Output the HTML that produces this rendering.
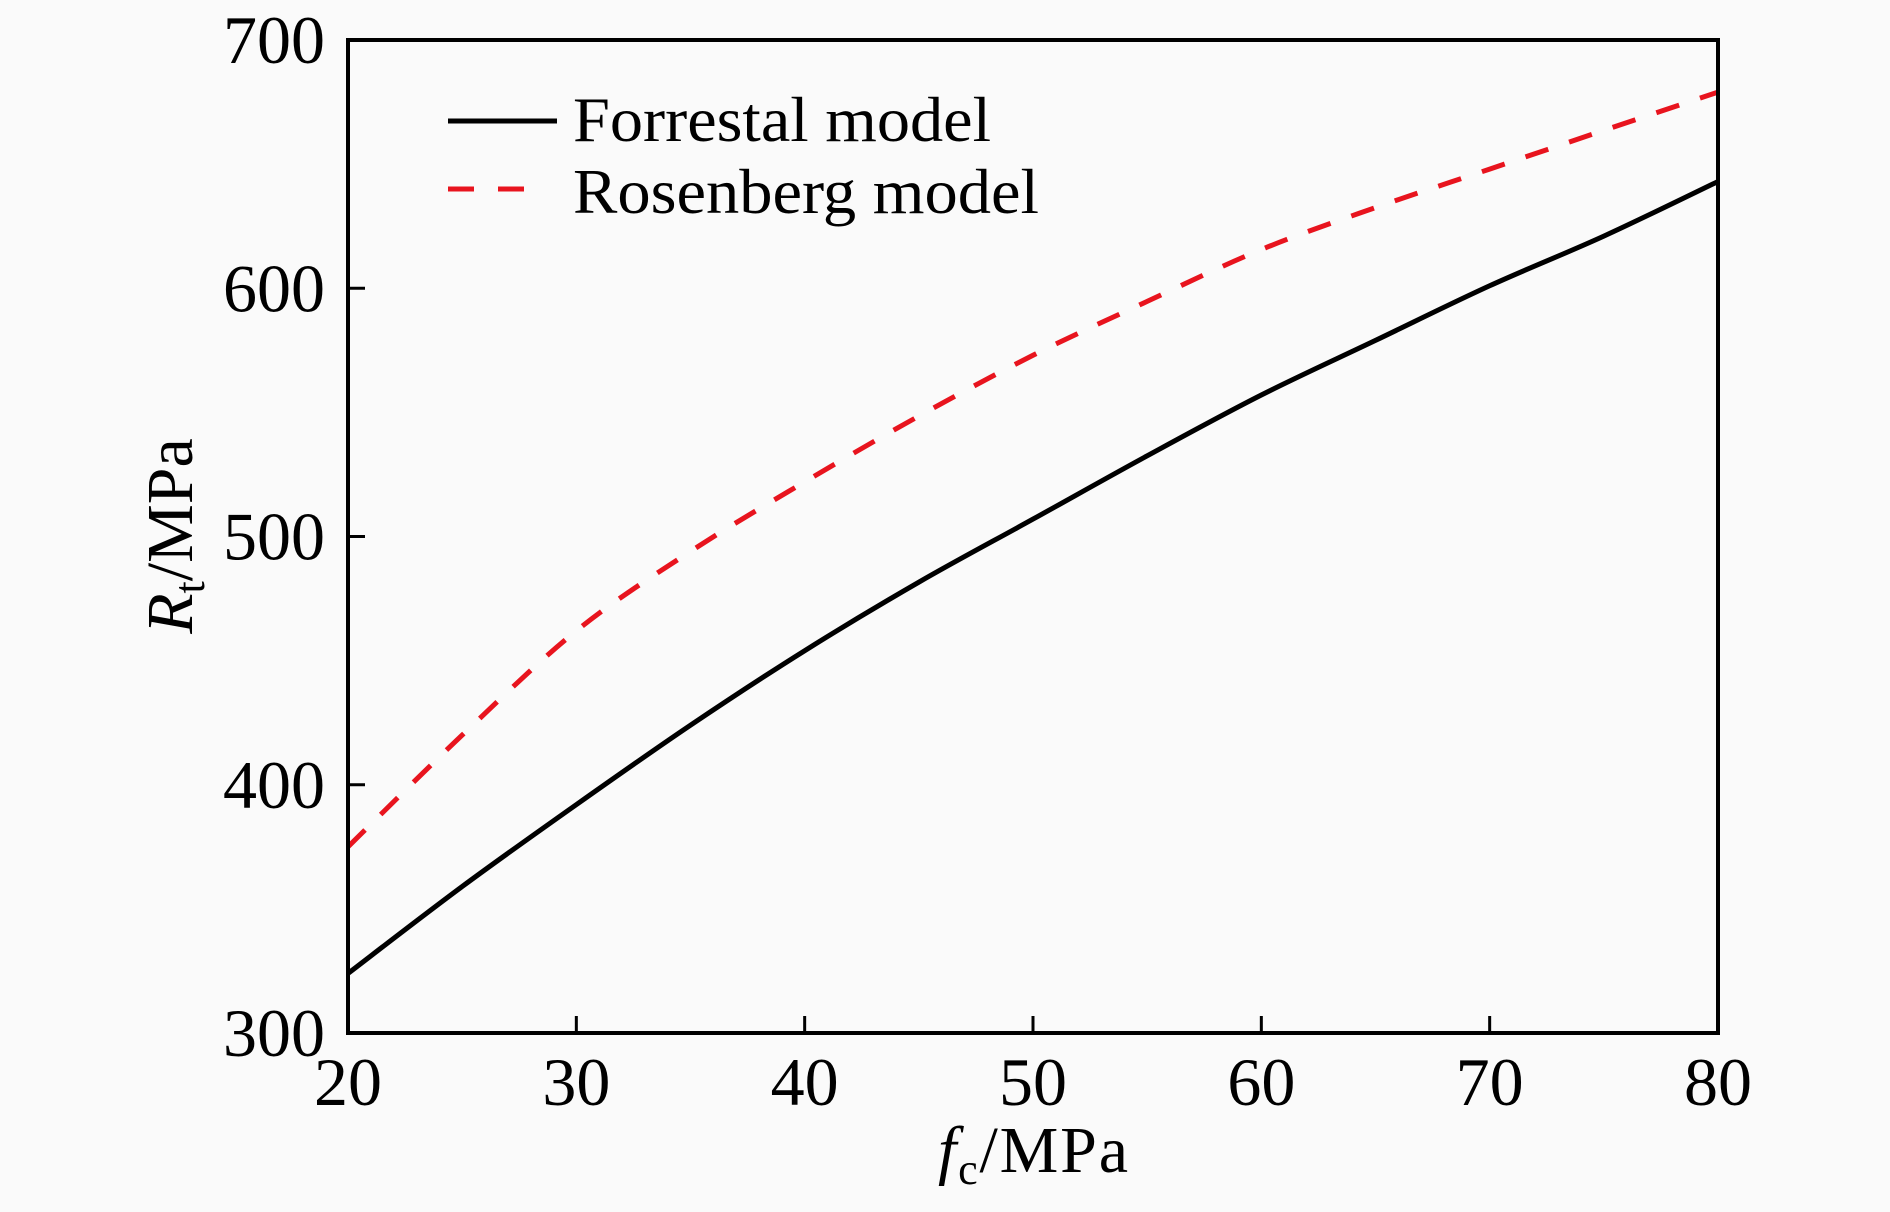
<!DOCTYPE html>
<html><head><meta charset="utf-8"><style>
html,body{margin:0;padding:0;background:#fafafa;}
svg{display:block;font-family:"Liberation Serif",serif;}
</style></head><body>
<svg id="chart" width="1890" height="1212" viewBox="0 0 1890 1212">
<rect width="1890" height="1212" fill="#fafafa"/>
<g id="marks"></g>
<rect x="348" y="40" width="1370" height="993" fill="none" stroke="#000" stroke-width="4"/>
<g id="ticks"></g>
<text x="1033" y="1172" font-size="66" text-anchor="middle" textLength="190"><tspan font-style="italic">f</tspan><tspan font-size="44" dy="12">c</tspan><tspan dy="-12">/MPa</tspan></text>
<text transform="translate(192,536) rotate(-90)" font-size="66" text-anchor="middle"><tspan font-style="italic">R</tspan><tspan font-size="44" dy="12">t</tspan><tspan dy="-12">/MPa</tspan></text>
<g>
<line x1="448" y1="121" x2="557" y2="121" stroke="#000" stroke-width="5"/>
<text x="573" y="141" font-size="64" textLength="418" lengthAdjust="spacingAndGlyphs">Forrestal model</text>
<line x1="448" y1="189" x2="540" y2="189" stroke="#e8141e" stroke-width="5" stroke-dasharray="26,24"/>
<text x="573" y="213" font-size="64" textLength="466" lengthAdjust="spacingAndGlyphs">Rosenberg model</text>
</g>
</svg>
<script>
const xs = [20,25,30,35,40,45,50,55,60,65,70,75,80];
const forrestal = [324,359,392,424,454,481.6,507,532.5,557,579,601,621,643];
const rosenberg = [375,420,462,494,522,548.5,573,594.7,615.6,632.5,648,663.6,679];
const xTicks = [20,30,40,50,60,70,80];
const yTicks = [300,400,500,600,700];
const NS="http://www.w3.org/2000/svg";
function X(v){return 348+(v-20)/60*1370;}
function Y(v){return 1033-(v-300)/400*993;}
function pathFor(arr){
  const p=xs.map((x,i)=>[X(x),Y(arr[i])]);
  let d="M"+p[0][0]+","+p[0][1];
  for(let i=0;i<p.length-1;i++){
    const p0=p[i-1]||p[i],p1=p[i],p2=p[i+1],p3=p[i+2]||p2;
    const c1=[p1[0]+(p2[0]-p0[0])/6,p1[1]+(p2[1]-p0[1])/6];
    const c2=[p2[0]-(p3[0]-p1[0])/6,p2[1]-(p3[1]-p1[1])/6];
    d+=" C"+c1+" "+c2+" "+p2;
  }
  return d;
}
const marks=document.getElementById('marks');
const l1=document.createElementNS(NS,'path');
l1.setAttribute('d',pathFor(forrestal));
l1.setAttribute('fill','none');l1.setAttribute('stroke','#000');l1.setAttribute('stroke-width','5');


marks.appendChild(l1);
const l2=document.createElementNS(NS,'path');
l2.setAttribute('d',pathFor(rosenberg));
l2.setAttribute('fill','none');l2.setAttribute('stroke','#e8141e');l2.setAttribute('stroke-width','5');l2.setAttribute('stroke-dasharray','24,22');


marks.appendChild(l2);
const tg=document.getElementById('ticks');
xTicks.forEach(v=>{
  const t=document.createElementNS(NS,'line');
  t.setAttribute('x1',X(v));t.setAttribute('x2',X(v));t.setAttribute('y1',1033);t.setAttribute('y2',1016);
  t.setAttribute('stroke','#000');t.setAttribute('stroke-width','3');
  
  
  tg.appendChild(t);
  const s=document.createElementNS(NS,'text');
  s.setAttribute('x',X(v));s.setAttribute('y',1105);s.setAttribute('font-size','68');s.setAttribute('text-anchor','middle');
  s.textContent=v;
  
  
  tg.appendChild(s);
});
yTicks.forEach(v=>{
  const t=document.createElementNS(NS,'line');
  t.setAttribute('x1',348);t.setAttribute('x2',365);t.setAttribute('y1',Y(v));t.setAttribute('y2',Y(v));
  t.setAttribute('stroke','#000');t.setAttribute('stroke-width','3');
  
  
  tg.appendChild(t);
  const s=document.createElementNS(NS,'text');
  s.setAttribute('x',325);s.setAttribute('y',Y(v)+23);s.setAttribute('font-size','68');s.setAttribute('text-anchor','end');
  s.textContent=v;
  
  
  tg.appendChild(s);
});
</script>
</body></html>
